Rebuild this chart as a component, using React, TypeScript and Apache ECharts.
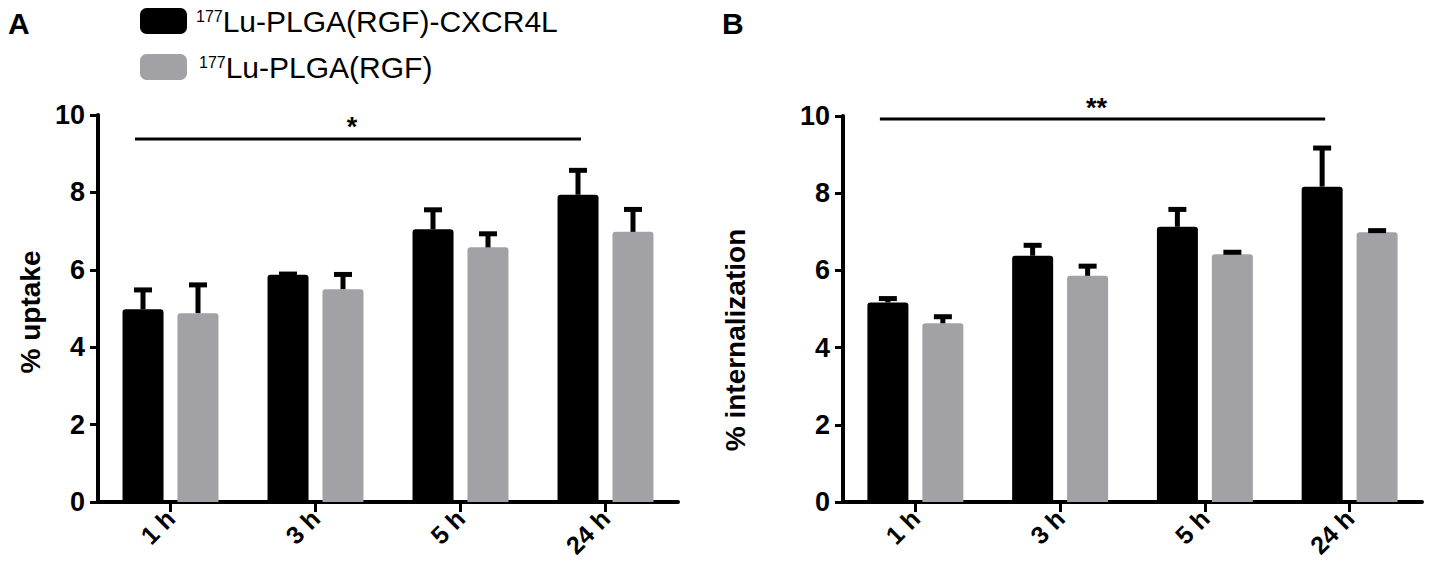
import React, { useEffect, useRef } from "react";
import * as echarts from "echarts";

const categories = ["1 h", "3 h", "5 h", "24 h"];
const seriesNames = ["177Lu-PLGA(RGF)-CXCR4L", "177Lu-PLGA(RGF)"];

const uptakeTargeted = [4.98, 5.87, 7.05, 7.94];
const uptakeTargetedErr = [0.5, 0.02, 0.5, 0.63];
const uptakeControl = [4.88, 5.5, 6.58, 6.98];
const uptakeControlErr = [0.73, 0.38, 0.35, 0.58];

const internTargeted = [5.17, 6.38, 7.13, 8.17];
const internTargetedErr = [0.1, 0.27, 0.45, 1.0];
const internControl = [4.63, 5.86, 6.42, 6.99];
const internControlErr = [0.17, 0.25, 0.05, 0.04];

const yMin = 0;
const yMax = 10;
const yInterval = 2;

// significance brackets: [from category, to category, y value]
const sigUptake = [0, 3, 9.38];
const sigUptakeLabel = "*";
const sigIntern = [0, 3, 9.92];
const sigInternLabel = "**";

const FONT = "'Liberation Sans', Arial, Helvetica, sans-serif";
const BLACK = "#000000";
const GREY = "#a2a2a6";
const HALF = 27.5; // half distance between paired bar centres

function errRender(offset: number) {
  return (params: any, api: any) => {
    const i = api.value(0);
    const m = api.value(1);
    const e = api.value(2);
    const base = api.coord([i, m]);
    const top = api.coord([i, m + e]);
    const x = base[0] + offset;
    return {
      type: "group",
      children: [
        {
          type: "line",
          shape: { x1: x, y1: base[1], x2: x, y2: top[1] },
          style: { stroke: BLACK, lineWidth: 5 },
        },
        {
          type: "line",
          shape: { x1: x - 9, y1: top[1], x2: x + 9, y2: top[1] },
          style: { stroke: BLACK, lineWidth: 5 },
        },
      ],
    };
  };
}

function sigRender(label: string) {
  return (params: any, api: any) => {
    const y = api.value(2);
    const p0 = api.coord([api.value(0), y]);
    const p1 = api.coord([api.value(1), y]);
    const x1 = p0[0] - HALF - 8;
    const x2 = p1[0] - HALF + 3;
    return {
      type: "group",
      children: [
        {
          type: "line",
          shape: { x1, y1: p0[1], x2, y2: p0[1] },
          style: { stroke: BLACK, lineWidth: 3 },
        },
        {
          type: "text",
          style: {
            text: label,
            x: (x1 + x2) / 2 - 6,
            y: p0[1] + 2,
            textAlign: "center",
            textVerticalAlign: "bottom",
            font: `bold 27px ${FONT}`,
            fill: BLACK,
          },
        },
      ],
    };
  };
}

function makeXAxis(gridIndex: number) {
  return {
    type: "category",
    gridIndex,
    data: categories,
    axisLine: { show: true, lineStyle: { color: BLACK, width: 4 } },
    axisTick: { show: true, alignWithLabel: true, length: 10, lineStyle: { color: BLACK, width: 3 } },
    axisLabel: {
      rotate: 45,
      margin: 12,
      color: BLACK,
      fontFamily: FONT,
      fontWeight: "bold",
      fontSize: 25,
    },
    splitLine: { show: false },
  };
}

function makeYAxis(gridIndex: number) {
  return {
    type: "value",
    gridIndex,
    min: yMin,
    max: yMax,
    interval: yInterval,
    axisLine: { show: true, lineStyle: { color: BLACK, width: 4 } },
    axisTick: { show: true, length: 8, lineStyle: { color: BLACK, width: 3 } },
    axisLabel: {
      margin: 13,
      color: BLACK,
      fontFamily: FONT,
      fontWeight: "bold",
      fontSize: 27,
    },
    splitLine: { show: false },
  };
}

function barSeries(name: string, data: number[], color: string, idx: number) {
  return {
    type: "bar",
    name,
    xAxisIndex: idx,
    yAxisIndex: idx,
    data,
    barWidth: 41,
    barGap: "34%",
    itemStyle: { color, borderRadius: [3, 3, 0, 0] },
    z: 2,
  };
}

function errSeries(name: string, vals: number[], errs: number[], offset: number, idx: number) {
  return {
    type: "custom",
    name: name + " err",
    xAxisIndex: idx,
    yAxisIndex: idx,
    data: vals.map((v, i) => [i, v, errs[i]]),
    encode: { x: 0, y: 1 },
    renderItem: errRender(offset),
    z: 3,
    silent: true,
  };
}

function sigSeries(sig: number[], label: string, idx: number) {
  return {
    type: "custom",
    name: "sig" + idx,
    xAxisIndex: idx,
    yAxisIndex: idx,
    data: [sig],
    encode: { x: [0, 1], y: 2 },
    renderItem: sigRender(label),
    z: 4,
    silent: true,
  };
}

export default function App() {
  const ref = useRef<HTMLDivElement>(null);

  useEffect(() => {
    document.body.style.margin = "0";
    if (!ref.current) return;
    const chart = echarts.init(ref.current, undefined, { renderer: "svg" });
    const legendFormatter = (name: string) =>
      "{sup|" + name.slice(0, 3) + "}{txt|" + name.slice(3) + "}";
    chart.setOption({
      animation: false,
      backgroundColor: "#ffffff",
      grid: [
        { left: 98, top: 115, width: 580, height: 387, containLabel: false },
        { left: 843, top: 116, width: 579, height: 386, containLabel: false },
      ],
      xAxis: [makeXAxis(0), makeXAxis(1)],
      yAxis: [makeYAxis(0), makeYAxis(1)],
      legend: {
        show: true,
        orient: "vertical",
        left: 135,
        top: 1,
        itemWidth: 47,
        itemHeight: 26,
        itemGap: 16,
        icon: "roundRect",
        selectedMode: false,
        data: [
          { name: seriesNames[0], textStyle: { padding: [0, 0, 0, 4] } },
          { name: seriesNames[1], textStyle: { padding: [0, 0, 0, 7] } },
        ],
        formatter: legendFormatter,
        textStyle: {
          color: BLACK,
          fontFamily: FONT,
          rich: {
            sup: { fontSize: 16, fontFamily: FONT, color: BLACK, verticalAlign: "top", lineHeight: 26 },
            txt: { fontSize: 30, fontFamily: FONT, color: BLACK, lineHeight: 26 },
          },
        },
      },
      graphic: [
        { type: "text", left: 8, top: 8, style: { text: "A", font: `bold 30px ${FONT}`, fill: BLACK } },
        { type: "text", left: 722, top: 8, style: { text: "B", font: `bold 30px ${FONT}`, fill: BLACK } },
        {
          type: "text",
          x: 30,
          y: 312,
          rotation: Math.PI / 2,
          style: {
            text: "% uptake",
            font: `bold 28px ${FONT}`,
            fill: BLACK,
            textAlign: "center",
            textVerticalAlign: "middle",
          },
        },
        {
          type: "text",
          x: 735,
          y: 340,
          rotation: Math.PI / 2,
          style: {
            text: "% internalization",
            font: `bold 28px ${FONT}`,
            fill: BLACK,
            textAlign: "center",
            textVerticalAlign: "middle",
          },
        },
      ],
      series: [
        barSeries(seriesNames[0], uptakeTargeted, BLACK, 0),
        barSeries(seriesNames[1], uptakeControl, GREY, 0),
        barSeries(seriesNames[0], internTargeted, BLACK, 1),
        barSeries(seriesNames[1], internControl, GREY, 1),
        errSeries(seriesNames[0], uptakeTargeted, uptakeTargetedErr, -HALF, 0),
        errSeries(seriesNames[1], uptakeControl, uptakeControlErr, HALF, 0),
        errSeries(seriesNames[0], internTargeted, internTargetedErr, -HALF, 1),
        errSeries(seriesNames[1], internControl, internControlErr, HALF, 1),
        sigSeries(sigUptake, sigUptakeLabel, 0),
        sigSeries(sigIntern, sigInternLabel, 1),
      ],
    });
    return () => chart.dispose();
  }, []);

  return <div ref={ref} style={{ width: 1429, height: 584 }} />;
}
